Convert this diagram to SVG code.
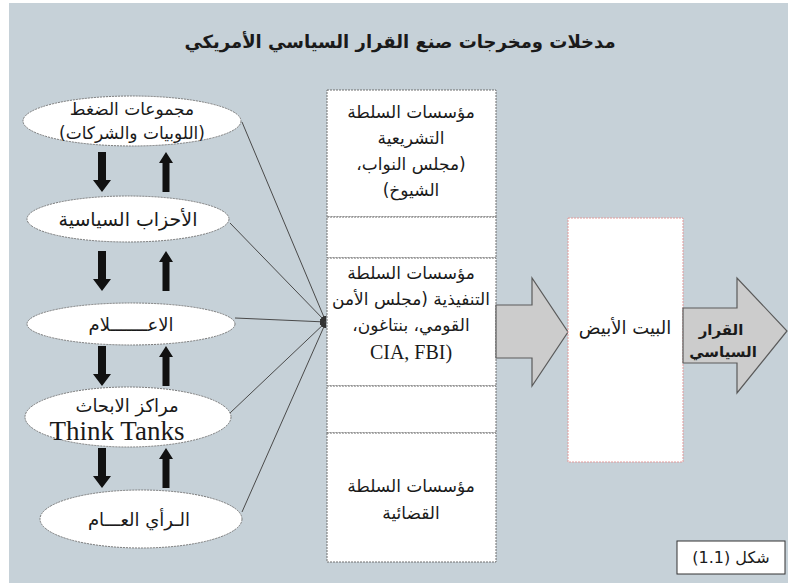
<svg xmlns="http://www.w3.org/2000/svg" width="788" height="588" viewBox="0 0 788 588">
<style>
.ar{font-family:"DejaVu Sans","Noto Sans",sans-serif;font-size:17px;fill:#1a1a1a;text-anchor:middle;direction:rtl}
.lat{font-family:"Liberation Serif","DejaVu Serif",serif;font-size:20px;fill:#1a1a1a;text-anchor:middle;direction:ltr}
.ell{fill:#ffffff;stroke:#7a7a7a;stroke-width:1;stroke-dasharray:2 1}
.box{fill:#ffffff;stroke:#6e6e6e;stroke-width:1;stroke-dasharray:2 1}
.conn{stroke:#4a4a4a;stroke-width:1;fill:none}
.blk{fill:#111111}
.big{fill:#cccccc;stroke:#5a5a5a;stroke-width:1.2}
</style>
<defs>
<marker id="ah" viewBox="0 0 10 10" refX="10" refY="5" markerWidth="6" markerHeight="6" orient="auto" markerUnits="userSpaceOnUse">
<path d="M0,0 L10,5 L0,10 z" fill="#333"/>
</marker>
<path id="dn" d="M-4,0 H4 V28 H9 L0,40 L-9,28 H-4 Z"/>
<path id="up" d="M-3.5,40 H3.5 V11 H7 L0,0 L-7,11 H-3.5 Z"/>
</defs>
<rect x="0" y="0" width="788" height="588" fill="#ffffff"/>
<rect x="9" y="3" width="779" height="580" fill="#c6d1d8"/>
<text x="400" y="48" class="ar" direction="rtl" style="font-size:18px;font-weight:bold">مدخلات ومخرجات صنع القرار السياسي الأمريكي</text>

<g id="connectors">
<line class="conn" x1="242" y1="122" x2="326" y2="322" marker-end="url(#ah)"/>
<line class="conn" x1="230" y1="223" x2="326" y2="322" marker-end="url(#ah)"/>
<line class="conn" x1="235" y1="318" x2="326" y2="322" marker-end="url(#ah)"/>
<line class="conn" x1="230" y1="413" x2="326" y2="322" marker-end="url(#ah)"/>
<line class="conn" x1="242" y1="512" x2="326" y2="322" marker-end="url(#ah)"/>
<use href="#dn" class="blk" x="102" y="152"/>
<use href="#up" class="blk" x="166" y="152"/>
<use href="#dn" class="blk" x="102" y="251"/>
<use href="#up" class="blk" x="166" y="251"/>
<use href="#dn" class="blk" x="102" y="346"/>
<use href="#up" class="blk" x="166" y="346"/>
<use href="#dn" class="blk" x="102" y="448"/>
<use href="#up" class="blk" x="166" y="448"/>
</g>

<g id="pressure-groups">
<ellipse class="ell" cx="132" cy="121" rx="109" ry="25"/>
<text class="ar" direction="rtl" x="132" y="115">مجموعات الضغط</text>
<text class="ar" direction="rtl" x="132" y="139">(اللوبيات والشركات)</text>
</g>
<g id="parties">
<ellipse class="ell" cx="128" cy="219" rx="101" ry="23"/>
<text class="ar" direction="rtl" x="128" y="226" style="font-size:19px">الأحزاب السياسية</text>
</g>
<g id="media">
<ellipse class="ell" cx="131" cy="324" rx="104" ry="21"/>
<text class="ar" direction="rtl" x="131" y="331" style="font-size:18px">الاعـــــــلام</text>
</g>
<g id="think-tanks">
<ellipse class="ell" cx="128" cy="417" rx="103" ry="30"/>
<text class="ar" direction="rtl" x="127" y="412" style="font-size:18px">مراكز الابحاث</text>
<text class="lat" x="117" y="440" style="font-size:27px">Think Tanks</text>
</g>
<g id="public-opinion">
<ellipse class="ell" cx="141" cy="519" rx="101" ry="29"/>
<text class="ar" direction="rtl" x="139" y="526" style="font-size:18px">الـرأي العـــام</text>
</g>

<g id="institutions">
<rect class="box" x="327" y="90" width="169" height="127"/>
<rect class="box" x="327" y="217" width="169" height="41"/>
<rect class="box" x="327" y="258" width="169" height="128"/>
<rect class="box" x="327" y="386" width="169" height="47"/>
<rect class="box" x="327" y="433" width="169" height="129"/>
<text class="ar" direction="rtl" x="411" y="118">مؤسسات السلطة</text>
<text class="ar" direction="rtl" x="411" y="144">التشريعية</text>
<text class="ar" direction="rtl" x="411" y="170">&#x200F;(مجلس النواب،&#x200F;</text>
<text class="ar" direction="rtl" x="411" y="196">&#x200F;الشيوخ)&#x200F;</text>
<text class="ar" direction="rtl" x="411" y="279">مؤسسات السلطة</text>
<text class="ar" direction="rtl" x="411" y="305">&#x200F;التنفيذية (مجلس الأمن&#x200F;</text>
<text class="ar" direction="rtl" x="411" y="331">&#x200F;القومي، بنتاغون،&#x200F;</text>
<text class="lat" x="411" y="359">CIA, FBI)</text>
<text class="ar" direction="rtl" x="411" y="492">مؤسسات السلطة</text>
<text class="ar" direction="rtl" x="411" y="519">القضائية</text>
</g>

<g id="input-arrow">
<path class="big" d="M496,305 H532 V278 L568,332 L532,386 V358 H496 Z"/>
</g>

<g id="white-house">
<rect x="568" y="218" width="115" height="244" fill="#ffffff" stroke="#e29a9a" stroke-width="1" stroke-dasharray="2 1"/>
<text class="ar" direction="rtl" x="625" y="334" style="font-size:18px">البيت الأبيض</text>
</g>

<g id="decision">
<path class="big" d="M683,308 H737 V278 L787,331 L737,393 V363 H683 Z" fill="#c4c4c4"/>
<text class="ar" direction="rtl" x="721" y="335" style="font-weight:bold;font-size:15px">القرار</text>
<text class="ar" direction="rtl" x="723" y="357" style="font-weight:bold;font-size:15px">السياسي</text>
</g>

<g id="caption">
<rect x="677" y="541" width="108" height="33" fill="#ffffff" stroke="#333" stroke-width="1"/>
<text class="ar" direction="rtl" x="731" y="563" style="font-size:16px">&#x200F;شكل (1.1)&#x200F;</text>
</g>
</svg>
